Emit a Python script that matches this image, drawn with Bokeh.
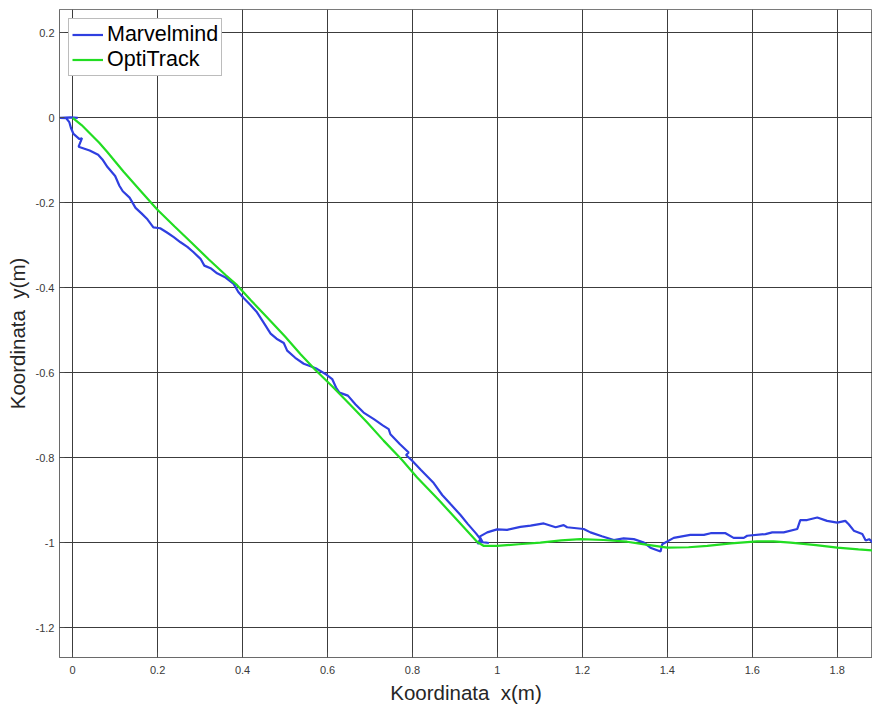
from bokeh.plotting import figure
from bokeh.models import Range1d, FixedTicker, Legend, LegendItem
from bokeh.embed import file_html
from bokeh.resources import INLINE

# ---- data ----
marvelmind_x = [0.012, -0.005, -0.03, -0.015, -0.008, -0.004, 0.002, 0.016, 0.022, 0.014, 0.04, 0.06, 0.07,
                0.082, 0.1, 0.11, 0.118, 0.134, 0.148, 0.162, 0.176, 0.19, 0.206, 0.222, 0.238, 0.254, 0.27,
                0.284, 0.301, 0.31, 0.326, 0.34, 0.36, 0.379, 0.39, 0.403, 0.418, 0.434, 0.45, 0.466, 0.48,
                0.497, 0.505, 0.524, 0.544, 0.56, 0.575, 0.598, 0.611, 0.62, 0.628, 0.648, 0.666, 0.685, 0.71,
                0.73, 0.744, 0.748, 0.77, 0.791, 0.785, 0.8, 0.82, 0.85, 0.87, 0.89, 0.913, 0.93, 0.95, 0.96,
                0.953, 0.962, 0.98, 0.965, 0.958, 0.976, 0.999, 1.023, 1.054, 1.078, 1.109, 1.137, 1.156,
                1.164, 1.203, 1.219, 1.246, 1.274, 1.297, 1.321, 1.345, 1.36, 1.384, 1.388, 1.415, 1.454,
                1.486, 1.502, 1.537, 1.556, 1.58, 1.588, 1.631, 1.647, 1.674, 1.706, 1.713, 1.729, 1.753,
                1.776, 1.8, 1.819, 1.827, 1.839, 1.859, 1.867, 1.875, 1.89]
marvelmind_y = [0.0, 0.001, 0.0, -0.001, -0.01, -0.024, -0.038, -0.05, -0.048, -0.068, -0.077, -0.087, -0.098,
                -0.116, -0.137, -0.16, -0.173, -0.188, -0.212, -0.225, -0.239, -0.258, -0.26, -0.27, -0.281,
                -0.293, -0.304, -0.316, -0.332, -0.348, -0.355, -0.366, -0.376, -0.391, -0.41, -0.425, -0.44,
                -0.458, -0.483, -0.508, -0.52, -0.53, -0.548, -0.565, -0.579, -0.585, -0.591, -0.605, -0.615,
                -0.635, -0.647, -0.654, -0.675, -0.694, -0.71, -0.724, -0.733, -0.745, -0.768, -0.788, -0.794,
                -0.808, -0.829, -0.86, -0.888, -0.91, -0.935, -0.956, -0.979, -0.992, -1.003, -0.998, -1.001,
                -0.999, -0.986, -0.976, -0.969, -0.97, -0.963, -0.96, -0.955, -0.964, -0.959, -0.964, -0.968,
                -0.976, -0.985, -0.994, -0.99, -0.992, -1.0, -1.012, -1.021, -1.004, -0.989, -0.982, -0.982,
                -0.978, -0.978, -0.989, -0.989, -0.984, -0.98, -0.976, -0.976, -0.968, -0.947, -0.947, -0.941,
                -0.949, -0.953, -0.949, -0.957, -0.972, -0.98, -0.995, -0.992, -1.005]

optitrack_x = [0.0, 0.021, 0.042, 0.062, 0.081, 0.1, 0.12, 0.159, 0.199, 0.24, 0.28, 0.32, 0.36, 0.385, 0.42,
               0.458, 0.5, 0.536, 0.571, 0.612, 0.654, 0.693, 0.732, 0.775, 0.811, 0.862, 0.91, 0.952, 0.968,
               0.999, 1.05, 1.101, 1.15, 1.195, 1.25, 1.305, 1.35, 1.4, 1.45, 1.494, 1.55, 1.611, 1.65, 1.69,
               1.75, 1.8, 1.85, 1.89]
optitrack_y = [0.0, -0.017, -0.038, -0.058, -0.08, -0.103, -0.127, -0.171, -0.216, -0.256, -0.294, -0.333,
               -0.37, -0.392, -0.43, -0.47, -0.515, -0.556, -0.593, -0.633, -0.676, -0.717, -0.76, -0.805,
               -0.847, -0.9, -0.952, -0.998, -1.008, -1.008, -1.004, -1.0, -0.995, -0.992, -0.994, -0.998,
               -1.005, -1.012, -1.011, -1.008, -1.002, -0.997, -0.997, -1.0, -1.006, -1.012, -1.016, -1.019]

x_ticks = [0, 0.2, 0.4, 0.6, 0.8, 1.0, 1.2, 1.4, 1.6, 1.8]
x_tick_labels = ["0", "0.2", "0.4", "0.6", "0.8", "1", "1.2", "1.4", "1.6", "1.8"]
y_ticks = [0.2, 0, -0.2, -0.4, -0.6, -0.8, -1.0, -1.2]
y_tick_labels = ["0.2", "0", "-0.2", "-0.4", "-0.6", "-0.8", "-1", "-1.2"]

FONT = "Liberation Sans"

p = figure(width=872, height=709, output_backend="svg", toolbar_location=None,
           x_range=Range1d(-0.031, 1.883), y_range=Range1d(-1.2706, 0.255),
           min_border_left=59, min_border_right=0, min_border_top=9, min_border_bottom=52)

p.background_fill_color = "white"
p.border_fill_color = "white"
p.outline_line_color = "#7a7a7a"
p.outline_line_width = 1

r1 = p.line(marvelmind_x, marvelmind_y, line_color="#2f3fe0", line_width=2.2)
r2 = p.line(optitrack_x, optitrack_y, line_color="#22dd22", line_width=2.2)

for ax in (p.xaxis[0], p.yaxis[0]):
    ax.major_tick_in = 5
    ax.major_tick_out = 0
    ax.minor_tick_in = 0
    ax.minor_tick_out = 0
    ax.axis_line_color = "#6a6a6a"
    ax.major_tick_line_color = "#4a4a4a"
    ax.major_label_text_font = FONT
    ax.major_label_text_font_size = "11px"
    ax.major_label_text_color = "#3a3a3a"
    ax.axis_label_text_font = FONT
    ax.axis_label_text_font_size = "20.5px"
    ax.axis_label_text_font_style = "normal"
    ax.axis_label_text_color = "#262626"

p.xaxis[0].ticker = FixedTicker(ticks=x_ticks)
p.xaxis[0].major_label_overrides = {t: l for t, l in zip(x_ticks, x_tick_labels)}
p.xaxis[0].major_label_standoff = 8
p.xaxis[0].axis_label = "Koordinata \u00a0x(m)"
p.xaxis[0].axis_label_standoff = 4

p.yaxis[0].ticker = FixedTicker(ticks=y_ticks)
p.yaxis[0].major_label_overrides = {t: l for t, l in zip(y_ticks, y_tick_labels)}
p.yaxis[0].major_label_standoff = 5
p.yaxis[0].axis_label = "Koordinata \u00a0y(m)"
p.yaxis[0].axis_label_standoff = 4

for g in (p.xgrid[0], p.ygrid[0]):
    g.grid_line_color = "#3c3c3c"
    g.grid_line_width = 1
    g.grid_line_alpha = 1.0
p.xgrid[0].ticker = FixedTicker(ticks=x_ticks)
p.ygrid[0].ticker = FixedTicker(ticks=y_ticks)

legend = Legend(items=[LegendItem(label="Marvelmind", renderers=[r1]),
                       LegendItem(label="OptiTrack", renderers=[r2])],
                location="top_left")
legend.margin = 9
legend.padding = 3
legend.spacing = 0
legend.glyph_width = 31
legend.glyph_height = 25
legend.label_height = 25
legend.label_standoff = 4
legend.label_text_font = FONT
legend.label_text_font_size = "21.5px"
legend.label_text_color = "#000000"
legend.border_line_color = "#7a7a7a"
legend.border_line_width = 1
legend.background_fill_color = "white"
legend.background_fill_alpha = 1.0
p.add_layout(legend)

open("out.html", "w").write(file_html(p, INLINE))
